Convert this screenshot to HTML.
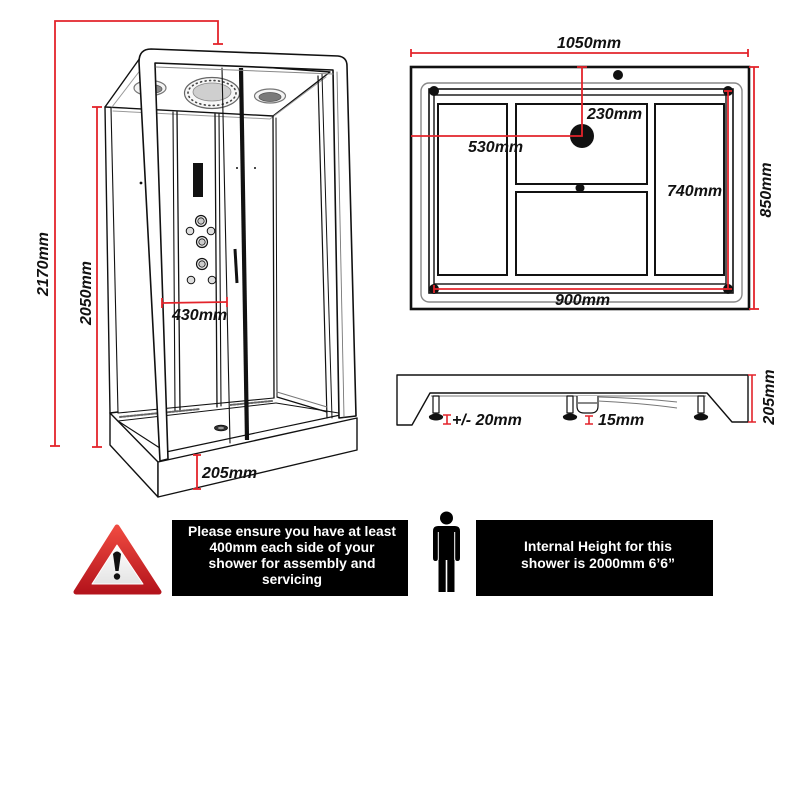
<!DOCTYPE html>
<html><head><meta charset="utf-8">
<style>
html,body{margin:0;padding:0;background:#fff;}
svg{display:block;}
.d{font-family:"Liberation Sans",Arial,sans-serif;font-weight:bold;font-style:italic;font-size:16px;fill:#111;}
.w{font-family:"Liberation Sans",Arial,sans-serif;font-weight:bold;font-size:13.5px;fill:#fff;}
</style></head><body>
<svg width="800" height="800" viewBox="0 0 800 800" xmlns="http://www.w3.org/2000/svg">
<rect width="800" height="800" fill="#fff"/>
<defs>
<linearGradient id="rg" x1="0" y1="0" x2="0" y2="1">
<stop offset="0" stop-color="#ef4a40"/><stop offset="1" stop-color="#b4141c"/>
</linearGradient>
<linearGradient id="wg" x1="0" y1="0" x2="0" y2="1">
<stop offset="0" stop-color="#ffffff"/><stop offset="1" stop-color="#e4e4e4"/>
</linearGradient>
</defs>

<!-- ================= SHOWER ================= -->
<g fill="none" stroke="#111" stroke-width="1.4" stroke-linejoin="round" stroke-linecap="round">
<!-- ceiling -->
<path d="M140,58 L105,107 L273,116 L330,72 Z" fill="#fff"/>
<path d="M145,64 L112,107" stroke="#999" stroke-width="1"/>
<path d="M113,111 L270,119 L326,77" stroke="#999" stroke-width="1"/>
<!-- lights -->
<ellipse cx="150" cy="88" rx="16" ry="7.5" fill="#f4f4f4" stroke="#777" stroke-width="1.2"/>
<ellipse cx="151" cy="89" rx="11" ry="4.5" fill="#8a8a8a" stroke="#555" stroke-width="0.8"/>
<ellipse cx="212" cy="93" rx="27.5" ry="15.5" fill="#f7f7f7" stroke="#666" stroke-width="1.2"/>
<ellipse cx="212" cy="93" rx="24" ry="12.5" stroke="#444" stroke-width="1.6" stroke-dasharray="1 3.5"/>
<ellipse cx="212" cy="92" rx="19" ry="9" fill="#cfcfcf" stroke="#888" stroke-width="0.8"/>
<ellipse cx="270" cy="96" rx="15.5" ry="7" fill="#f4f4f4" stroke="#777" stroke-width="1.2"/>
<ellipse cx="270" cy="97" rx="11" ry="4.5" fill="#7a7a7a" stroke="#555" stroke-width="0.8"/>

<!-- back wall -->
<path d="M105,107 L110,413"/>
<path d="M111,108 L118,413" stroke-width="1.1"/>
<path d="M173,112 L175,411" stroke-width="1.1"/>
<path d="M177,112 L180,410" stroke-width="1.3"/>
<path d="M215,114 L217,407" stroke-width="1.3"/>
<path d="M219,114 L221,406" stroke-width="1.1"/>
<path d="M222,68 L230,443" stroke-width="1.1"/>
<!-- right back corner & right wall -->
<path d="M273,116 L274,398" stroke-width="1.3"/>
<path d="M276,118 L277,397" stroke-width="1"/>
<path d="M318,76 L327,418" stroke-width="1.2"/>
<path d="M322,74 L332,418" stroke-width="1"/>
<path d="M277,397 L327,412" stroke-width="1.2"/>
<path d="M277,392 L327,407" stroke="#777" stroke-width="1"/>
<!-- wall bottom shadow band -->
<path d="M118,413 L274,398" stroke-width="1.1"/>
<path d="M120,417 L200,409" stroke="#666" stroke-width="2" stroke-dasharray="2 1.5"/>
<path d="M230,405 L272,401" stroke="#666" stroke-width="2" stroke-dasharray="2 1.5"/>

<!-- tray -->
<path d="M110,413 L158,462 L158,497 L110,445 Z" fill="#fff"/>
<path d="M158,462 L357,418 L357,450 L158,497 Z" fill="#fff"/>
<path d="M110,413 L118,412" />
<path d="M118,421 L166,452 L345,414" stroke-width="1.2"/>
<path d="M118,421 L276,403" stroke-width="1"/>
<path d="M276,403 L345,414" stroke-width="1"/>
<ellipse cx="221" cy="428" rx="6.5" ry="2.8" fill="#333" stroke="#111" stroke-width="0.8"/>
<ellipse cx="221" cy="428" rx="3" ry="1.2" fill="#999" stroke="none"/>

<!-- control panel -->
<rect x="193" y="163" width="10" height="34" fill="#111" stroke="none"/>
<circle cx="201" cy="221" r="5.5" fill="#eee" stroke-width="1.2"/>
<circle cx="201" cy="221" r="3.2" fill="#ccc" stroke-width="0.8"/>
<circle cx="190" cy="231" r="3.8" fill="#ddd" stroke-width="1"/>
<circle cx="211" cy="231" r="3.8" fill="#ddd" stroke-width="1"/>
<circle cx="202" cy="242" r="5.5" fill="#eee" stroke-width="1.2"/>
<circle cx="202" cy="242" r="3.2" fill="#ccc" stroke-width="0.8"/>
<circle cx="202" cy="264" r="5.5" fill="#eee" stroke-width="1.2"/>
<circle cx="202" cy="264" r="3.2" fill="#ccc" stroke-width="0.8"/>
<circle cx="191" cy="280" r="3.8" fill="#ddd" stroke-width="1"/>
<circle cx="212" cy="280" r="3.8" fill="#ddd" stroke-width="1"/>
<circle cx="141" cy="183" r="1.4" fill="#111" stroke="none"/>
<circle cx="237" cy="168" r="1" fill="#111" stroke="none"/>
<circle cx="255" cy="168" r="1" fill="#111" stroke="none"/>

<!-- door bar and handle -->
<path d="M241,68 L247,440" stroke-width="4.2" stroke-linecap="butt"/>
<path d="M235,249 L237,283" stroke-width="3" stroke-linecap="butt"/>

<!-- front frame (posts + top beam) -->
<path d="M160,461 L139,62 Q139,49 151,49 L338,56 Q347,57 347,66 L356,416 L339,418 L333,70 L155,63 L168,459 Z" fill="#fff" stroke-width="1.6"/>
<path d="M156,67 L333,74" stroke="#888" stroke-width="1"/>
<path d="M337,72 L344,417" stroke="#777" stroke-width="0.9"/>
</g>

<!-- shower dimensions -->
<g stroke="#e3242b" stroke-width="1.8" fill="none">
<path d="M55,446 L55,21 L218,21 L218,44"/>
<path d="M213,44 L223,44"/>
<path d="M50,446 L60,446"/>
<path d="M97,107 L97,447"/>
<path d="M92,107 L102,107"/>
<path d="M92,447 L102,447"/>
<path d="M162,303 L227,302"/>
<path d="M162,298 L162,308"/>
<path d="M227,297 L227,307"/>
<path d="M197,455 L197,489"/>
<path d="M193,455 L201,455"/>
<path d="M193,489 L201,489"/>
</g>
<text class="d" transform="translate(48,264) rotate(-90)" text-anchor="middle">2170mm</text>
<text class="d" transform="translate(91,293) rotate(-90)" text-anchor="middle">2050mm</text>
<text class="d" x="172" y="320">430mm</text>
<text class="d" x="202" y="478">205mm</text>

<!-- ================= PLAN VIEW ================= -->
<rect x="411" y="67" width="338" height="242" fill="#fff" stroke="#111" stroke-width="2.6"/>
<rect x="421" y="83" width="321" height="219" rx="8" fill="none" stroke="#888" stroke-width="1.4"/>
<rect x="429" y="89" width="304" height="204" fill="none" stroke="#111" stroke-width="1.6"/>
<rect x="434" y="95" width="292" height="189" fill="none" stroke="#111" stroke-width="1.4"/>
<g fill="#fff" stroke="#111" stroke-width="2">
<rect x="438" y="104" width="69" height="171"/>
<rect x="516" y="104" width="131" height="80"/>
<rect x="516" y="192" width="131" height="83"/>
<rect x="655" y="104" width="69" height="171"/>
</g>
<g fill="#111">
<circle cx="434" cy="91" r="5"/>
<circle cx="728" cy="91" r="5"/>
<circle cx="434" cy="289" r="5"/>
<circle cx="728" cy="289" r="5"/>
<circle cx="582" cy="136" r="12"/>
<circle cx="580" cy="188" r="4.5"/>
<circle cx="618" cy="75" r="5"/>
</g>
<g stroke="#e3242b" stroke-width="1.8" fill="none">
<path d="M411,53 L748,53"/>
<path d="M411,49 L411,57"/>
<path d="M748,49 L748,57"/>
<path d="M582,67 L582,136 L411,136"/>
<path d="M577,67 L587,67"/>
<path d="M728,91 L728,289"/>
<path d="M724,91 L732,91"/>
<path d="M724,289 L732,289"/>
<path d="M434,289 L728,289"/>
<path d="M434,285 L434,293"/>
<path d="M754,67 L754,309"/>
<path d="M749,67 L759,67"/>
<path d="M749,309 L759,309"/>
</g>
<text class="d" x="557" y="48">1050mm</text>
<text class="d" x="587" y="119">230mm</text>
<text class="d" x="468" y="152">530mm</text>
<text class="d" x="667" y="196">740mm</text>
<text class="d" x="555" y="305">900mm</text>
<text class="d" transform="translate(771,190) rotate(-90)" text-anchor="middle">850mm</text>

<!-- ================= SIDE VIEW ================= -->
<g stroke="#111" stroke-width="1.4" stroke-linejoin="round">
<path d="M397,375 L748,375 L748,422 L732,422 L707,393 L430,393 L412,425 L397,425 Z" fill="#fff"/>
<path d="M431,396 L706,396" stroke="#777" stroke-width="1"/>
<!-- legs -->
<rect x="433" y="396" width="6" height="17" fill="#fff" stroke-width="1.2"/>
<rect x="567" y="396" width="6" height="17" fill="#fff" stroke-width="1.2"/>
<rect x="698" y="396" width="6" height="17" fill="#fff" stroke-width="1.2"/>
<!-- trap -->
<path d="M577,396 L577,406 Q577,413 584,413 L591,413 Q598,413 598,406 L598,396" fill="#fff" stroke-width="1.2"/>
<path d="M578,403 L597,403" stroke-width="1"/>
<path d="M598,397 Q640,398 677,402" fill="none" stroke="#777" stroke-width="1"/>
<path d="M598,401 Q640,403 677,408" fill="none" stroke="#777" stroke-width="1"/>
</g>
<g fill="#111">
<path d="M429,416 Q436,411 443,416 Q444,420 436,420.5 Q428,420 429,416 Z"/>
<path d="M563,416 Q570,411 577,416 Q578,420 570,420.5 Q562,420 563,416 Z"/>
<path d="M694,416 Q701,411 708,416 Q709,420 701,420.5 Q693,420 694,416 Z"/>
</g>
<g stroke="#e3242b" stroke-width="1.6" fill="none">
<path d="M447,415 L447,424 M443,415 L451,415 M443,424 L451,424"/>
<path d="M589,416 L589,424 M585,416 L593,416 M585,424 L593,424"/>
<path d="M752,375 L752,422 M748,375 L756,375 M748,422 L756,422"/>
</g>
<text class="d" x="452" y="425">+/- 20mm</text>
<text class="d" x="598" y="425">15mm</text>
<text class="d" transform="translate(774,397) rotate(-90)" text-anchor="middle">205mm</text>

<!-- ================= WARNING ROW ================= -->
<path d="M117,527 L159,592 L76,592 Z" fill="url(#rg)" stroke="url(#rg)" stroke-width="5" stroke-linejoin="round"/>
<path d="M117,545 L143,584 L92,584 Z" fill="url(#wg)" stroke="#fff" stroke-width="1" stroke-linejoin="round"/>
<path d="M113,554 Q117,549 121,554 L118.6,571 L115.4,571 Z" fill="#111"/>
<circle cx="117" cy="576.5" r="3.2" fill="#111"/>

<rect x="172" y="520" width="236" height="76" fill="#000"/>
<text class="w" x="292" y="536" text-anchor="middle" textLength="208" lengthAdjust="spacingAndGlyphs">Please ensure you have at least</text>
<text class="w" x="292" y="552" text-anchor="middle" textLength="165" lengthAdjust="spacingAndGlyphs">400mm each side of your</text>
<text class="w" x="292" y="568" text-anchor="middle" textLength="167" lengthAdjust="spacingAndGlyphs">shower for assembly and</text>
<text class="w" x="292" y="584" text-anchor="middle" textLength="60" lengthAdjust="spacingAndGlyphs">servicing</text>

<!-- person -->
<g fill="#000">
<circle cx="446.5" cy="518" r="6.5"/>
<path d="M433,531 Q433,526 438,526 L455,526 Q460,526 460,531 L460,558 Q460,561 457.5,561 Q455,561 455,558 L455,532 L454.5,532 L454.5,592 L447.3,592 L447.3,560 L445.7,560 L445.7,592 L438.5,592 L438.5,532 L438,532 L438,558 Q438,561 435.5,561 Q433,561 433,558 Z"/>
</g>
<g stroke="#fff" stroke-width="1">
<path d="M438.3,532 L438.3,560"/>
<path d="M454.7,532 L454.7,560"/>
</g>

<rect x="476" y="520" width="237" height="76" fill="#000"/>
<text class="w" x="598" y="551" text-anchor="middle" textLength="148" lengthAdjust="spacingAndGlyphs">Internal Height for this</text>
<text class="w" x="598" y="568" text-anchor="middle" textLength="154" lengthAdjust="spacingAndGlyphs">shower is 2000mm 6’6”</text>
</svg>
</body></html>
